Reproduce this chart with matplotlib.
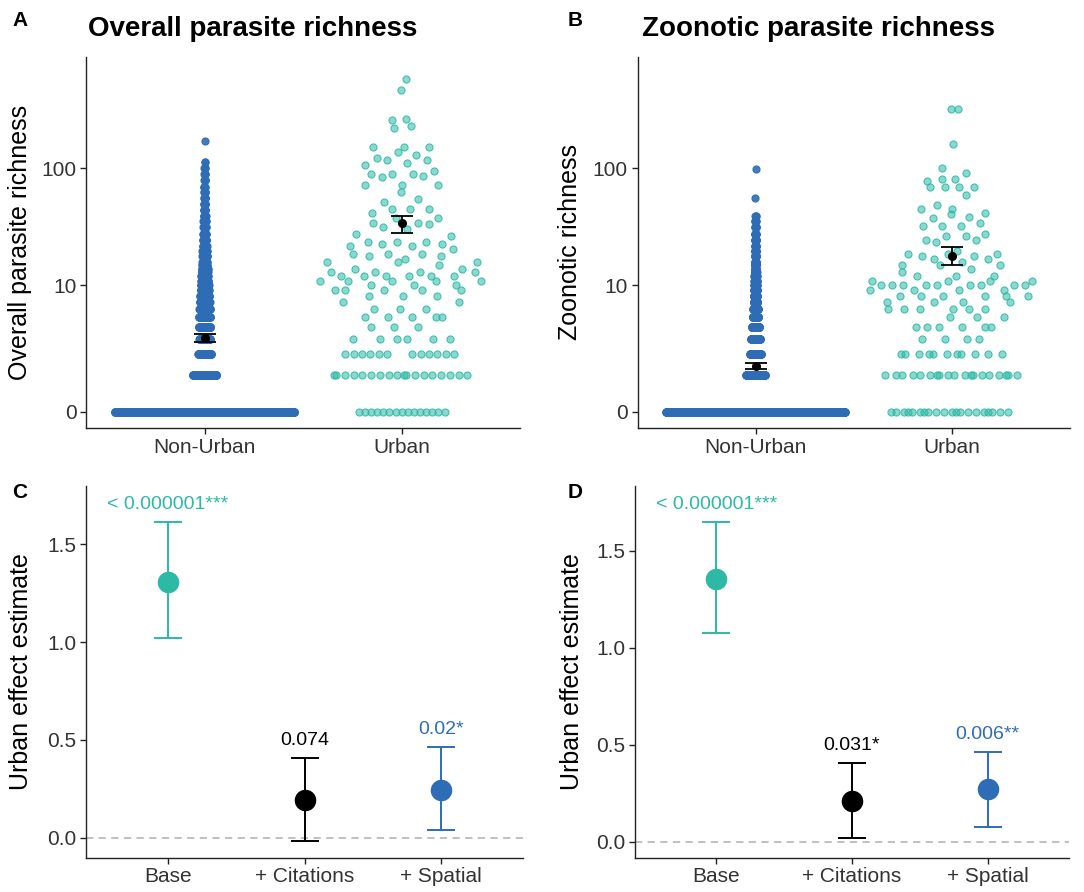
import numpy as np
import matplotlib
matplotlib.use("Agg")
import matplotlib.pyplot as plt
from matplotlib.colors import to_rgba

plt.rcParams['font.family'] = ['Liberation Sans', 'DejaVu Sans']

# ---------------- data ----------------
groups = ["Non-Urban", "Urban"]

# Panel A: overall parasite richness (value / number of species)
nonurban_overall_vals = [0, 1, 2, 3, 4, 5, 6, 7, 8, 9, 10, 11, 12, 13, 14, 15, 16, 18, 20, 22, 25, 28, 32,
                         36, 40, 45, 50, 56, 63, 70, 80, 90, 100, 113, 168]
nonurban_overall_cnts = [2000, 260, 140, 110, 110, 90, 75, 60, 50, 42, 36, 30, 26, 23, 20, 18, 16, 28, 22,
                         18, 20, 16, 16, 13, 10, 9, 8, 7, 6, 5, 5, 4, 3, 2, 1]
urban_overall_vals = [0, 1, 2, 3, 4, 5, 6, 7, 8, 9, 10, 11, 12, 13, 14, 15, 16, 17, 18, 19, 21, 22, 23, 24,
                      27, 28, 31, 32, 34, 35, 38, 42, 46, 52, 55, 63, 73, 84, 86, 89, 90, 95, 106, 111, 118,
                      121, 129, 135, 149, 216, 222, 251, 256, 444, 544]
urban_overall_cnts = [15, 18, 12, 6, 3, 5, 3, 2, 3, 5, 3, 5, 6, 4, 2, 1, 3, 1, 2, 3, 1, 2, 2, 3,
                      1, 1, 1, 1, 1, 2, 2, 1, 3, 1, 1, 1, 3, 1, 1, 2, 1, 1, 1, 1, 2,
                      1, 1, 1, 3, 1, 1, 1, 1, 1, 1]

# Panel B: zoonotic parasite richness
nonurban_zoo_vals = [0, 1, 2, 3, 4, 5, 6, 7, 8, 9, 10, 11, 12, 13, 14, 15, 16, 18, 20, 22, 25, 28, 32, 36,
                     40, 56, 98]
nonurban_zoo_cnts = [2300, 240, 140, 115, 95, 75, 60, 48, 40, 33, 28, 24, 20, 17, 14, 12, 11, 18, 14, 11,
                     12, 9, 7, 5, 3, 1, 1]
urban_zoo_vals = [0, 1, 2, 3, 4, 5, 6, 7, 8, 9, 10, 11, 12, 13, 14, 15, 16, 17, 18, 19, 20, 24, 25, 27,
                  28, 33, 35, 38, 39, 41, 42, 46, 49, 60, 70, 78, 81, 92, 101, 159, 310]
urban_zoo_cnts = [20, 19, 11, 4, 6, 3, 6, 4, 6, 4, 9, 4, 3, 1, 1, 3, 1, 2, 2, 3, 1, 1, 2, 2,
                  1, 3, 1, 1, 1, 1, 1, 2, 1, 1, 4, 1, 2, 1, 1, 1, 2]

# mean +/- SE summaries (Non-Urban, Urban)
overall_mean = [3.06, 34.9]
overall_lo = [2.77, 28.3]
overall_hi = [3.33, 39.6]
zoo_mean = [1.39, 18.2]
zoo_lo = [1.26, 15.0]
zoo_hi = [1.53, 21.5]

# Panels C/D: urban effect estimates
models = ["Base", "+ Citations", "+ Spatial"]
overall_est = [1.306, 0.193, 0.244]
overall_est_lo = [1.022, -0.017, 0.039]
overall_est_hi = [1.612, 0.409, 0.462]
overall_p = ["< 0.000001***", "0.074", "0.02*"]
zoo_est = [1.354, 0.211, 0.270]
zoo_est_lo = [1.077, 0.021, 0.077]
zoo_est_hi = [1.646, 0.404, 0.462]
zoo_p = ["< 0.000001***", "0.031*", "0.006**"]

# ---------------- style ----------------
TEAL = "#2DB9A6"
BLUE = "#2E6DB5"
model_colors = [TEAL, "#000000", BLUE]
group_colors = [BLUE, TEAL]
TICKC = "#333333"

W, H = 1084, 892
fig = plt.figure(figsize=(W / 100, H / 100), dpi=100)


def px_axes(left, top, right, bottom):
    return fig.add_axes([left / W, 1 - bottom / H, (right - left) / W, (bottom - top) / H])


def style(ax):
    for s in ["top", "right"]:
        ax.spines[s].set_visible(False)
    for s in ["left", "bottom"]:
        ax.spines[s].set_linewidth(1.0)
        ax.spines[s].set_color("#222222")
    ax.tick_params(axis="both", length=4, width=1.0, color="#222222",
                   labelsize=15, labelcolor=TICKC, pad=3)


def vdc(n, base=2):
    out = np.zeros(n)
    for i in range(1, n + 1):
        x, denom, k = 0.0, 1.0, i
        while k > 0:
            denom *= base
            k, r = divmod(k, base)
            x += r / denom
        out[i - 1] = x
    return out


def quasirandom(values, width=0.455):
    t = np.log10(np.asarray(values, float) + 1)
    n = len(t)
    sd = t.std(ddof=1)
    iqr = np.subtract(*np.percentile(t, [75, 25]))
    lo = min(sd, iqr / 1.34) if iqr > 0 else sd
    bw = 0.9 * lo * n ** (-0.2) * 0.5
    uniq, inv, cnt = np.unique(t, return_inverse=True, return_counts=True)
    dens_u = np.array([(cnt * np.exp(-0.5 * ((u - uniq) / bw) ** 2)).sum() for u in uniq])
    dens = dens_u[inv] / dens_u.max()
    order = np.argsort(t, kind="stable")
    ranks = np.empty(n, int)
    ranks[order] = np.arange(n)
    v = vdc(n)[ranks]
    return (v - 0.5) * 2 * width * dens


fwd = lambda x: np.log10(np.clip(x, -0.99, None) + 1)
inv = lambda y: 10 ** y - 1


def swarm_panel(ax, vals_list, cnts_list, means, los, his, ylabel):
    for gi, (vals, cnts) in enumerate(zip(vals_list, cnts_list)):
        y = np.repeat(np.array(vals, float), cnts)
        x = gi + 1 + quasirandom(y)
        col = group_colors[gi]
        if gi == 1:
            fc, ec = to_rgba(col, 0.55), to_rgba(col, 0.85)
        else:
            fc, ec = to_rgba(col, 0.9), to_rgba(col, 0.95)
        ax.scatter(x, y, s=26, facecolors=[fc], edgecolors=[ec], linewidths=0.8, zorder=2)
    ax.set_yscale("function", functions=(fwd, inv))
    ax.errorbar([1, 2], means, yerr=[np.array(means) - np.array(los), np.array(his) - np.array(means)],
                fmt="o", color="black", ms=5.5, capsize=8, elinewidth=1.3, capthick=1.3, zorder=5)
    ax.set_ylim(inv(-0.137), inv(2.922))
    ax.set_xlim(0.4, 2.6)
    ax.set_xticks([1, 2])
    ax.set_xticklabels(groups)
    ax.set_yticks([0, 10, 100])
    ax.set_yticklabels(["0", "10", "100"])
    ax.yaxis.set_minor_locator(matplotlib.ticker.NullLocator())
    ax.set_ylabel(ylabel, fontsize=18, color="black")
    style(ax)


def effect_panel(ax, est, lo, hi, plab, ylim):
    x = np.arange(1, len(models) + 1)
    ax.axhline(0, color="#BBBBBB", lw=1.3, ls=(0, (4, 3)), zorder=1)
    for i in range(len(models)):
        ax.errorbar([x[i]], [est[i]], yerr=[[est[i] - lo[i]], [hi[i] - est[i]]], fmt="o",
                    color=model_colors[i], ms=14.5, capsize=10, elinewidth=1.4, capthick=1.4, zorder=3)
        ax.text(x[i], hi[i] + 0.09, plab[i], color=model_colors[i], fontsize=14,
                ha="center", va="center")
    ax.set_xlim(0.4, len(models) + 0.6)
    ax.set_ylim(*ylim)
    ax.set_xticks(x)
    ax.set_xticklabels(models)
    ax.set_yticks([0.0, 0.5, 1.0, 1.5])
    ax.set_yticklabels(["0.0", "0.5", "1.0", "1.5"])
    ax.set_ylabel("Urban effect estimate", fontsize=18, color="black")
    style(ax)


axA = px_axes(86.4, 56.7, 520, 428.3)
swarm_panel(axA, [nonurban_overall_vals, urban_overall_vals], [nonurban_overall_cnts, urban_overall_cnts],
            overall_mean, overall_lo, overall_hi, "Overall parasite richness")
axA.yaxis.set_label_coords(-0.125, 0.5)

axB = px_axes(637.7, 56.7, 1069.7, 428.3)
swarm_panel(axB, [nonurban_zoo_vals, urban_zoo_vals], [nonurban_zoo_cnts, urban_zoo_cnts],
            zoo_mean, zoo_lo, zoo_hi, "Zoonotic richness")
axB.yaxis.set_label_coords(-0.129, 0.5)

axC = px_axes(86, 486, 523, 857.7)
effect_panel(axC, overall_est, overall_est_lo, overall_est_hi, overall_p, (-0.102, 1.798))
axC.yaxis.set_label_coords(-0.121, 0.5)

axD = px_axes(635, 486, 1069, 857.7)
effect_panel(axD, zoo_est, zoo_est_lo, zoo_est_hi, zoo_p, (-0.082, 1.833))
axD.yaxis.set_label_coords(-0.117, 0.5)

# titles and panel letters
fig.text(88 / W, 1 - 29 / H, "Overall parasite richness", fontsize=20, fontweight="bold", va="center", ha="left")
fig.text(642 / W, 1 - 29 / H, "Zoonotic parasite richness", fontsize=20, fontweight="bold", va="center", ha="left")
for lab, xx, yy in [("A", 12, 20), ("B", 568, 20), ("C", 12, 493), ("D", 568, 493)]:
    fig.text(xx / W, 1 - yy / H, lab, fontsize=15, fontweight="bold", va="center", ha="left")

fig.savefig("out.png", dpi=100)
